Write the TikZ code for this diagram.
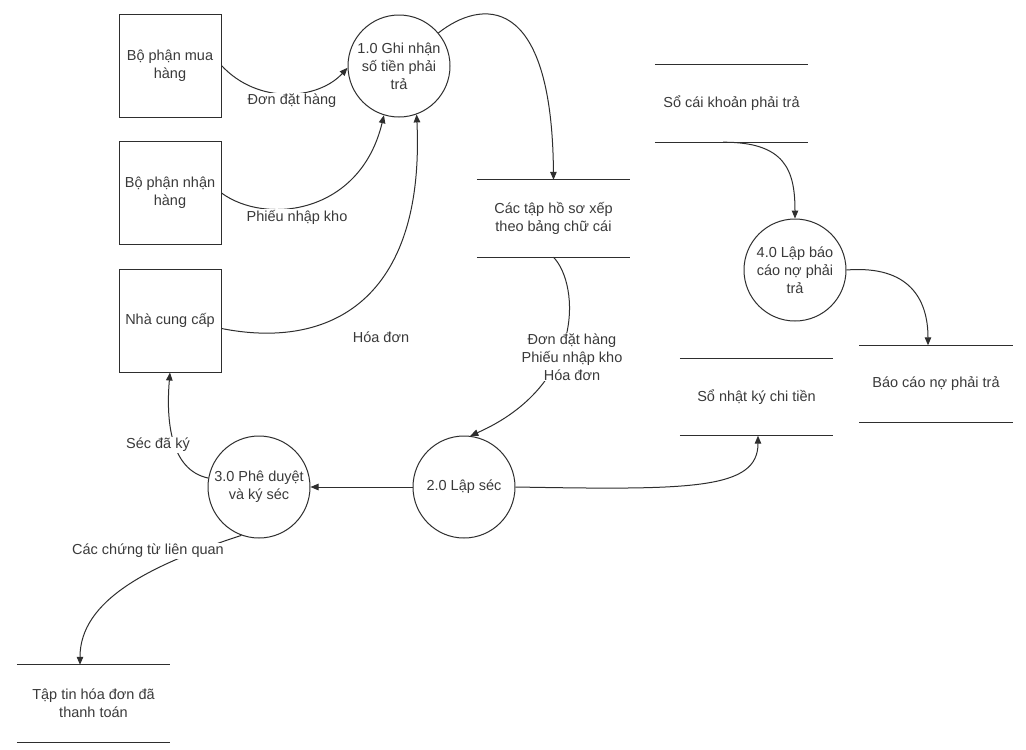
\documentclass[tikz,border=0pt]{standalone}
\usepackage{fontspec}
\setmainfont{Liberation Sans}
\usetikzlibrary{arrows.meta,calc}
\definecolor{ln}{HTML}{2E2E2E}
\definecolor{txt}{HTML}{3A3A3A}
\begin{document}
\begin{tikzpicture}[x=1pt,y=-1pt,
  every node/.style={font=\fontsize{14.5}{18}\selectfont, text=txt, align=center},
  entity/.style={draw=ln, line width=1pt, minimum width=102pt, minimum height=103pt, inner sep=0pt},
  proc/.style={draw=ln, line width=1pt, circle, minimum size=102pt, inner sep=0pt},
  store/.style={minimum width=153pt, minimum height=77pt, inner sep=0pt},
  flow/.style={draw=ln, line width=1pt, -{Triangle[length=8pt,width=6.5pt]}},
  lbl/.style={fill=white, inner sep=1pt},
  storeline/.style={draw=ln, line width=1pt},
]
\useasboundingbox[fill=white] (0,0) rectangle (1026,750);

% external entities
\node[entity] (b1) at (170,65.5) {Bộ phận mua\\hàng};
\node[entity] (b2) at (170,193) {Bộ phận nhận\\hàng};
\node[entity] (b3) at (170,320.5) {Nhà cung cấp};

% processes
\node[proc] (c1) at (399,66) {1.0 Ghi nhận\\số tiền phải\\trả};
\node[proc] (c2) at (464,487) {2.0 Lập séc};
\node[proc] (c3) at (259,487) {3.0 Phê duyệt\\và ký séc};
\node[proc] (c4) at (795,270) {4.0 Lập báo\\cáo nợ phải\\trả};

% data stores
\node[store] (s1) at (553.5,218.5) {Các tập hồ sơ xếp\\theo bảng chữ cái};
\node[store] (s2) at (731.5,103.5) {Sổ cái khoản phải trả};
\node[store] (s3) at (756.5,397) {Sổ nhật ký chi tiền};
\node[store] (s4) at (936,384) {Báo cáo nợ phải trả};
\node[store] (s5) at (93.5,703.5) {Tập tin hóa đơn đã\\thanh toán};
\foreach \s in {s1,s2,s3,s4,s5}{
  \draw[storeline] (\s.north west) -- (\s.north east) (\s.south west) -- (\s.south east);
}

% flows
\draw[flow] (b1.east) .. controls (258,105) and (318,100) .. (c1.182);
\draw[flow] (b2.east) .. controls (265,225) and (360,215) .. (c1.253);
\draw[flow] ([yshift=-8pt]b3.east) .. controls (330,350) and (425,300) .. (c1.290);
\draw[flow] (c1.40) .. controls (480,0) and (552,-10) .. (s1.north);
\draw[flow] (s1.south) .. controls (580,285) and (585,385) .. (c2.83);
\draw[flow] (c2.west) -- (c3.east);
\draw[flow] (c2.east) .. controls (690,490) and (758,490) .. ($(s3.south)+(1.5,0)$);
\draw[flow] (c3.170) .. controls (170,470) and (166,420) .. (b3.south);
\draw[flow] (c3.250) .. controls (150,565) and (80,600) .. ($(s5.north)+(-13.5,0)$);
\draw[flow] ($(s2.south)+(-8.5,0)$) .. controls (785,142) and (795,170) .. (c4.north);
\draw[flow] (c4.east) .. controls (910,265) and (928,300) .. ($(s4.north)+(-8,0)$);

% flow labels
\node[lbl] (l1) at (292,101) {Đơn đặt hàng};
\node[lbl] (l2) at (297,217) {Phiếu nhập kho};
\node[lbl] (l3) at (381,337) {Hóa đơn};
\node[lbl] (l4) at (572,357) {Đơn đặt hàng\\Phiếu nhập kho\\Hóa đơn};
\node[lbl] (l5) at (158,445) {Séc đã ký};
\node[lbl] (l6) at (148,551) {Các chứng từ liên quan};
\end{tikzpicture}
\end{document}
